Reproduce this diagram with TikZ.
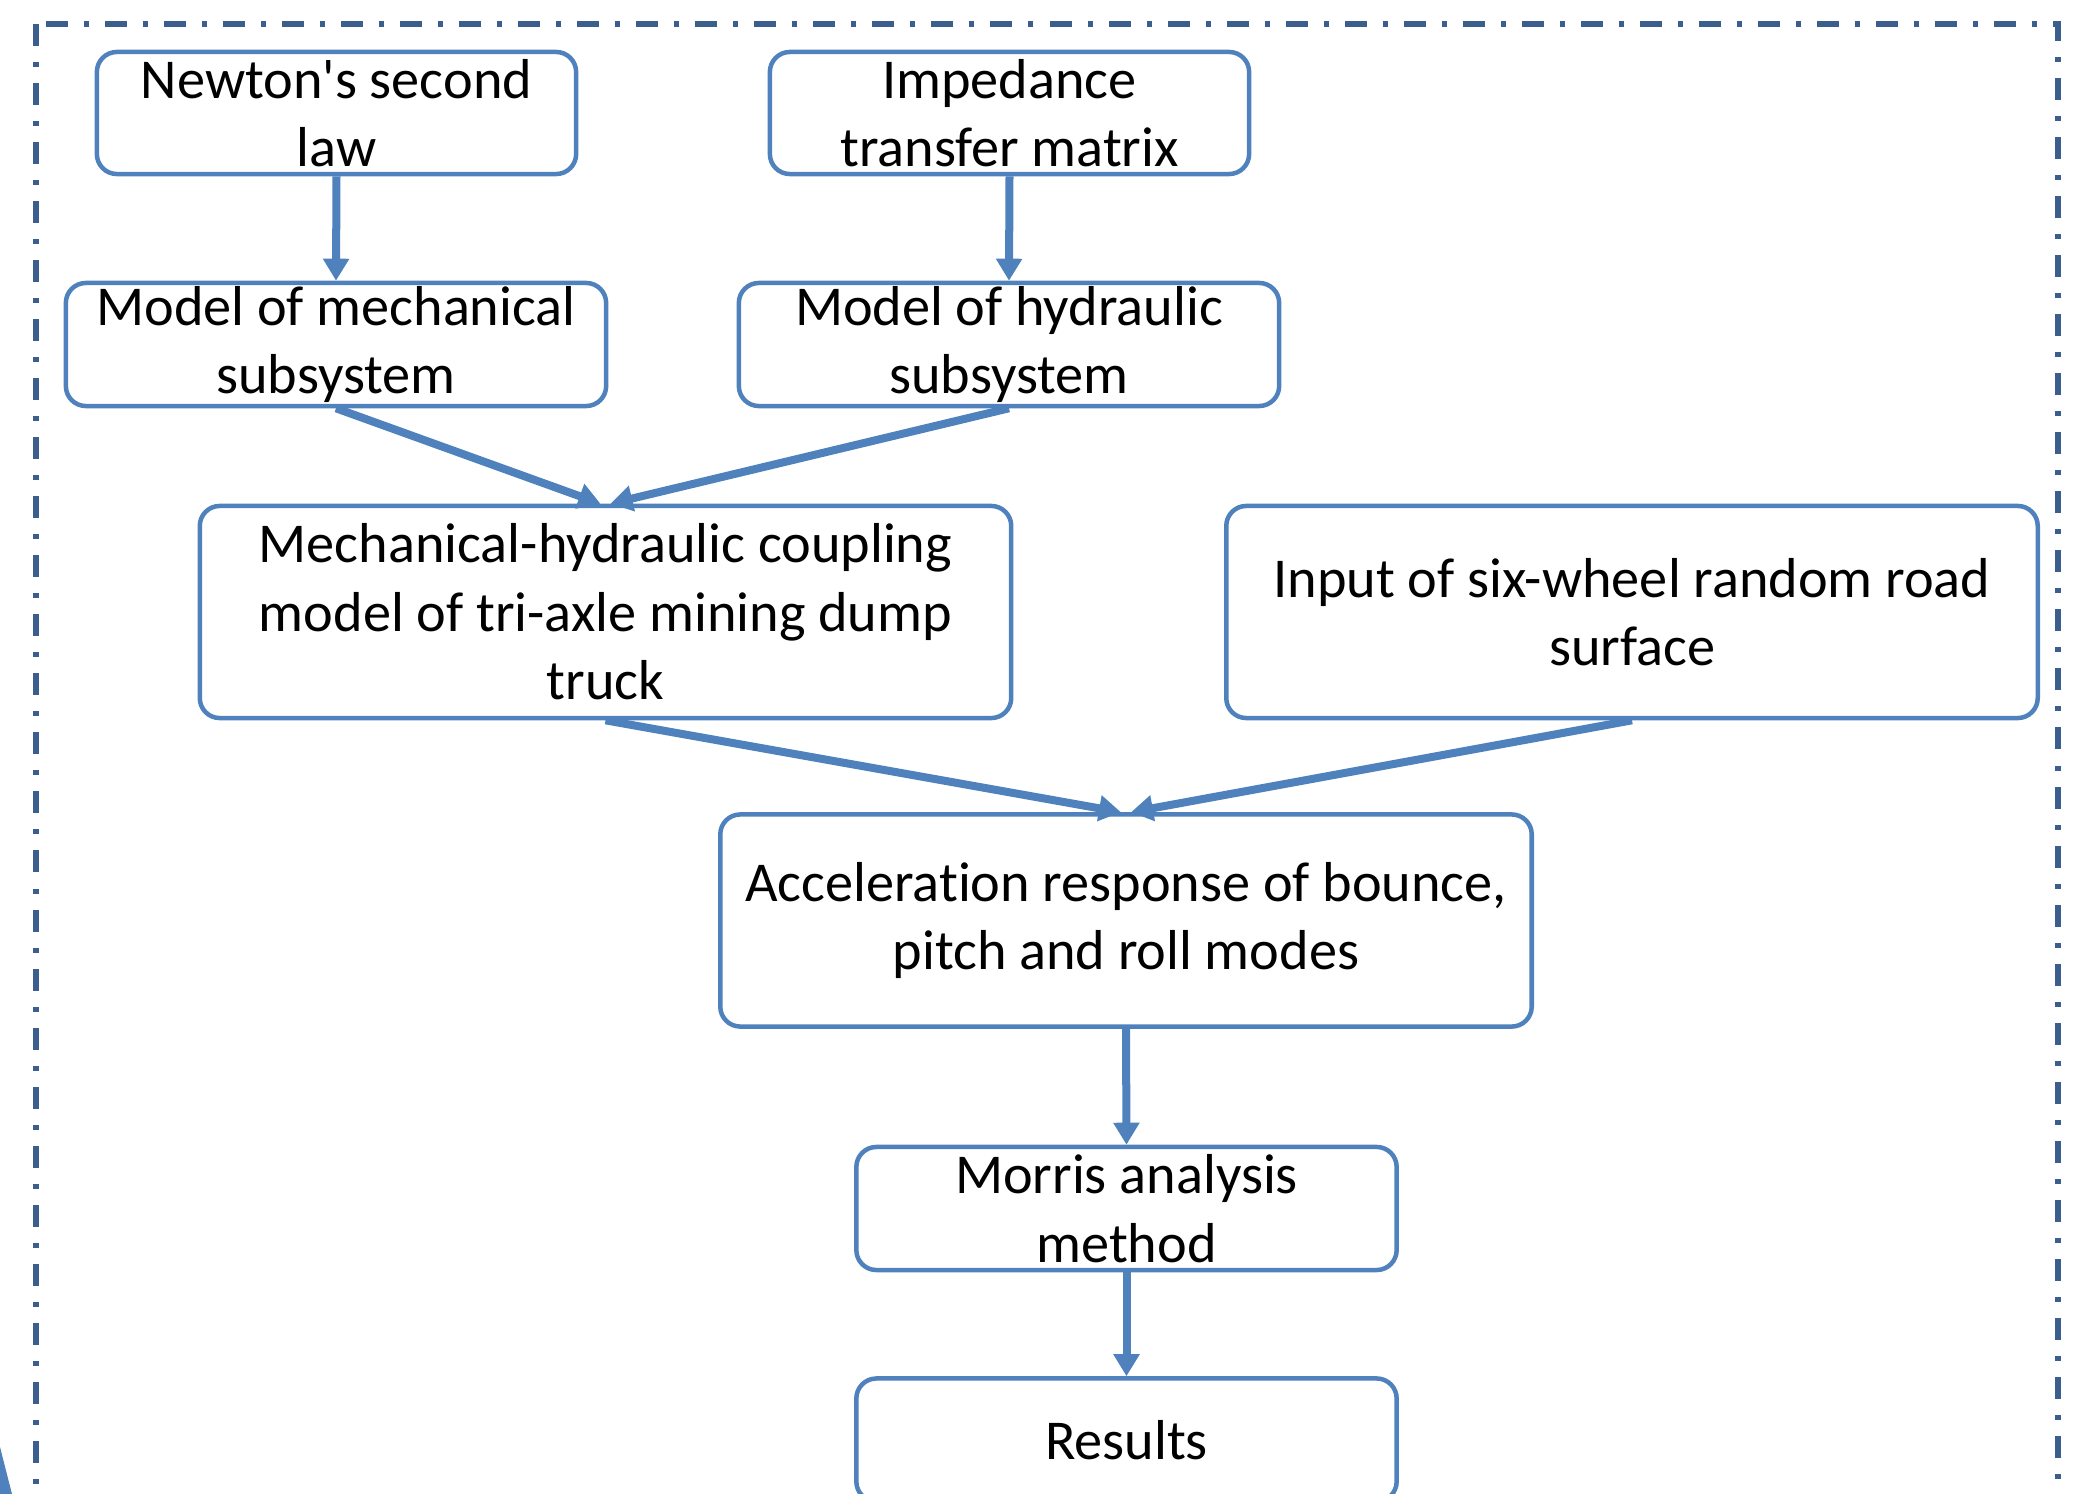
\documentclass[tikz,border=0pt]{standalone}
\usepackage{fontspec}
\setmainfont[Ligatures={NoCommon}]{Carlito}
\usetikzlibrary{arrows.meta}
\definecolor{boxblue}{HTML}{4F81BD}
\definecolor{frameblue}{HTML}{3B5E8C}

\begin{document}
\begin{tikzpicture}[x=0.01cm,y=-0.01cm,font=\fontsize{16}{19.5}\selectfont,
  flowbox/.style={draw=boxblue,line width=0.45mm,rounded corners=2mm,align=center,inner sep=0pt},
  narrowbox/.style={flowbox,minimum width=47.9mm,minimum height=12.2mm},
  midbox/.style={flowbox,minimum width=54mm,minimum height=12.3mm},
  widebox/.style={flowbox,minimum width=81.1mm,minimum height=21.2mm},
  flowarrow/.style={draw=boxblue,line width=0.8mm,-{Triangle[length=2.2mm,width=2.5mm]}}]
\useasboundingbox (0,0) rectangle (2081,1494);
\clip (0,0) rectangle (2081,1494);
% outer frame
\draw[frameblue,line width=0.55mm,dash pattern=on 2.2mm off 1.6mm on 0.5mm off 1.6mm] (36,24) rectangle (2058,1560);
\fill[boxblue] (0,1447) -- (12,1494) -- (0,1494) -- cycle;
% boxes
\node[narrowbox] (newton) at (336.5,113) {Newton\textquotesingle s second\\law};
\node[narrowbox] (imped) at (1009.5,113) {Impedance\\transfer matrix};
\node[midbox] (mech) at (336,344.5) {Model of mechanical\\subsystem};
\node[midbox] (hydr) at (1009,344.5) {Model of hydraulic\\subsystem};
\node[widebox] (coup) at (605.5,612) {Mechanical-hydraulic coupling\\model of tri-axle mining dump\\truck};
\node[widebox] (road) at (1632,612) {Input of six-wheel random road\\surface};
\node[widebox] (accel) at (1126,920.5) {Acceleration response of bounce,\\pitch and roll modes};
\node[midbox] (morris) at (1126.5,1208.5) {Morris analysis\\method};
\node[midbox] (results) at (1126.5,1440) {Results};
% arrows
\draw[flowarrow] (newton.south) -- (mech.north);
\draw[flowarrow] (imped.south) -- (hydr.north);
\draw[flowarrow] (mech.south) -- ([xshift=-0.5mm]coup.north);
\draw[flowarrow] (hydr.south) -- ([xshift=0.5mm]coup.north);
\draw[flowarrow] (coup.south) -- ([xshift=-0.5mm]accel.north);
\draw[flowarrow] (road.south) -- ([xshift=0.5mm]accel.north);
\draw[flowarrow] (accel.south) -- (morris.north);
\draw[flowarrow] (morris.south) -- (results.north);
\end{tikzpicture}
\end{document}
